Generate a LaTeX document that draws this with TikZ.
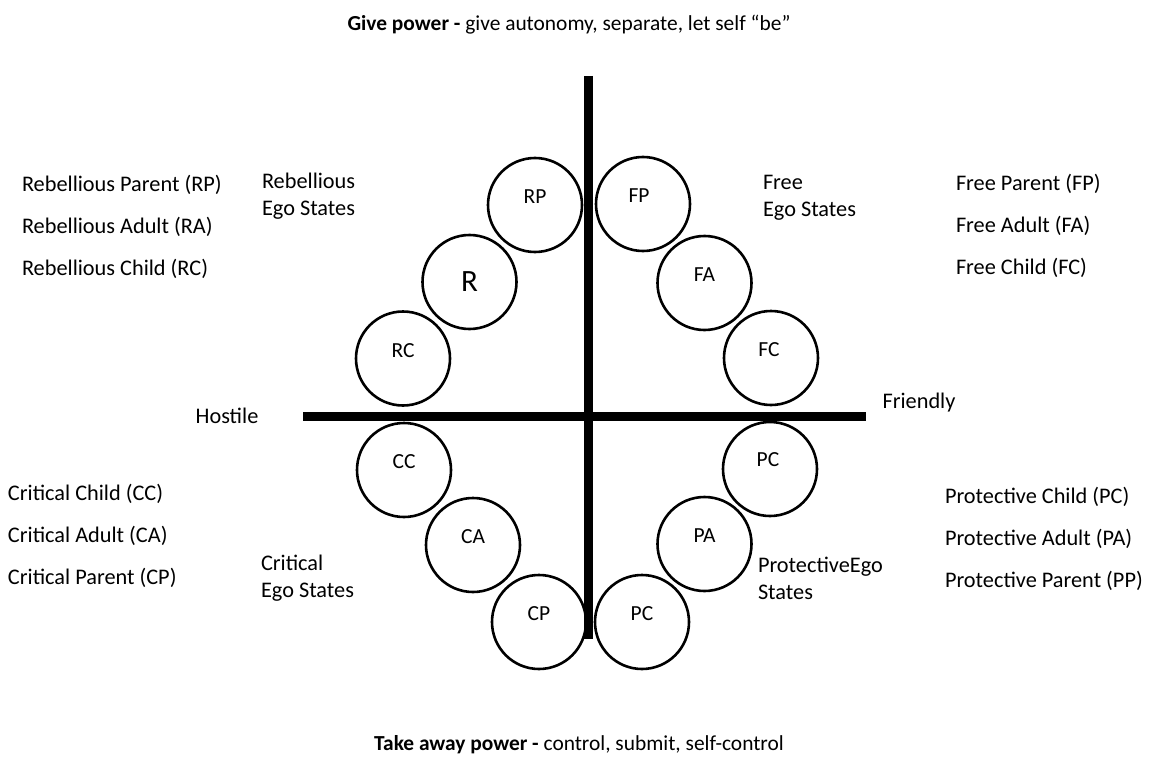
\documentclass[tikz,border=0pt]{standalone}
\usepackage{fontspec}
\setmainfont{Carlito}
\begin{document}
\begin{tikzpicture}[x=1pt,y=-1pt,
  every node/.style={inner sep=0pt, outer sep=0pt, font=\fontsize{22.3}{27}\selectfont},
  ego/.style={circle, draw, line width=2.6pt, minimum size=94pt},
  egotext/.style={font=\fontsize{21.5}{24}\selectfont},
  heading/.style={font=\fontsize{21.4}{26}\selectfont},
  axis/.style={line width=8.5pt},
  lbl/.style={anchor=west, align=left}]
\useasboundingbox (0,0) rectangle (1151,757);
% axes
\coordinate (vtop) at (588.5,76);
\coordinate (vbot) at (588.5,639);
\coordinate (hl) at (303,416.5);
\coordinate (hr) at (866,416.5);
\draw[axis] (vtop) -- (vbot);
\draw[axis] (hl) -- (hr);
% circles
\node[ego] (rp) at (535,205) {};
\node[ego] (fp) at (643,204) {};
\node[ego] (r) at (469.5,282) {};
\node[ego] (fa) at (704.5,283) {};
\node[ego] (rc) at (403,358.5) {};
\node[ego] (fc) at (771,358) {};
\node[ego] (cc) at (404,470) {};
\node[ego] (pc1) at (770,469) {};
\node[ego] (ca) at (473,545) {};
\node[ego] (pa) at (704.5,544) {};
\node[ego] (cp) at (539,622) {};
\node[ego] (pc2) at (642,622) {};
% circle texts
\node[egotext] (trp) at ([yshift=8pt]rp.center) {RP};
\node[egotext] (tfp) at ([xshift=-4pt,yshift=8pt]fp.center) {FP};
\node[font=\fontsize{31}{36}\selectfont] (tr) at (r.center) {R};
\node[egotext] (tfa) at ([yshift=8pt]fa.center) {FA};
\node[egotext] (trc) at ([yshift=8pt]rc.center) {RC};
\node[egotext] (tfc) at ([xshift=-2pt,yshift=8pt]fc.center) {FC};
\node[egotext] (tcc) at ([yshift=8pt]cc.center) {CC};
\node[egotext] (tpc1) at ([xshift=-2pt,yshift=9pt]pc1.center) {PC};
\node[egotext] (tca) at ([yshift=8pt]ca.center) {CA};
\node[egotext] (tpa) at ([yshift=8pt]pa.center) {PA};
\node[egotext] (tcp) at ([yshift=8pt]cp.center) {CP};
\node[egotext] (tpc2) at ([yshift=8pt]pc2.center) {PC};
% titles
\node[heading] (top) at (569,25) {\textbf{Give power -} give autonomy, separate, let self “be”};
\node[heading] (bottom) at (579,745) {\textbf{Take away power -} control, submit, self-control};
\node (hostile) at (227,416) {Hostile};
\node (friendly) at (919,403) {Friendly};
% group labels
\node[lbl] (rebg) at (262,196.5) {Rebellious\\Ego States};
\node[lbl] (freeg) at (763,197.5) {Free\\Ego States};
\node[lbl] (critg) at (261,578) {Critical\\Ego States};
\node[lbl] (protg) at (758,578) {ProtectiveEgo\\States};
% lists
\node[lbl] (l1) at (22,185) {Rebellious Parent (RP)};
\node[lbl] (l2) at (22,227) {Rebellious Adult (RA)};
\node[lbl] (l3) at (22,269) {Rebellious Child (RC)};
\node[lbl] (f1) at (956,184) {Free Parent (FP)};
\node[lbl] (f2) at (956,226) {Free Adult (FA)};
\node[lbl] (f3) at (956,268) {Free Child (FC)};
\node[lbl] (c1) at (8,494) {Critical Child (CC)};
\node[lbl] (c2) at (8,536) {Critical Adult (CA)};
\node[lbl] (c3) at (8,578) {Critical Parent (CP)};
\node[lbl] (p1) at (945,497) {Protective Child (PC)};
\node[lbl] (p2) at (945,539) {Protective Adult (PA)};
\node[lbl] (p3) at (945,581) {Protective Parent (PP)};
\end{tikzpicture}
\end{document}
